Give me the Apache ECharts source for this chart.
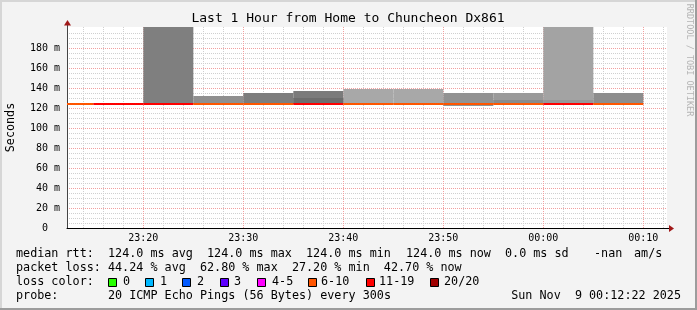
<!DOCTYPE html>
<html><head><meta charset="utf-8">
<script src="https://cdn.jsdelivr.net/npm/echarts@6/dist/echarts.min.js"></script>
<style>html,body{margin:0;padding:0;background:#f3f3f3}#c{width:697px;height:310px}</style>
</head><body><div id="c"></div>
<script>
// minutes after 23:00 (00:10 = 70)
const stepEnd    = [15, 20, 25, 30, 35, 40, 45, 50, 55, 60, 65, 70];
const medianRtt  = [124,124,124,124,124,124,124,124,124,124,124,124];
const lossPct    = [40, 58, 62.8, 35, 38, 60, 27.2, 33, 45, 40, 52, 42.7];
const smokeLow   = [null, null, 124, 124, 124, 124, 124, 124, 122, 124, 124, 124];
const smokeHigh  = [null, null, 240, 132, 135, 137, 139, 139, 135, 135, 240, 135];
const smokeInner = [null, null, null, null, null, 130, null, null, null, 128, 128, null];
const xLabelMinutes = [20, 30, 40, 50, 60, 70];
const yLabelValues  = [0, 20, 40, 60, 80, 100, 120, 140, 160, 180];
const lossBinMax    = [0, 1, 2, 3, 5, 10, 19, 20];
const lossBinLabels = ['0', '1', '2', '3', '4-5', '6-10', '11-19', '20/20'];

// styles (not data)
const lossBinColors = ['#26ff00', '#00b8ff', '#0059ff', '#5e00ff', '#ff00ff', '#ff5500', '#ff0000', '#a00000'];
const smokeShade = ['', '', '#7f7f7f', '#8f8f8f', '#7d7d7d', '#7b7b7b', '#a8a8a8', '#a8a8a8', '#929292', '#9a9a9a', '#a3a3a3', '#8d8d8d'];
const innerShade = ['', '', '', '', '', '#6d6d6d', '', '', '', '#8b8b8b', '#979797', ''];

const X_MIN = 12 + 22 / 60, X_MAX = 72 + 22 / 60, STEP = 5;
const xGrid = []; for (let m = 14; m <= 72; m += 2) xGrid.push(m);
const yGrid = []; for (let v = 0; v <= 195; v += 5) yGrid.push(v);
const FONT = 'DejaVu Sans Mono';

function lossColor(p) {
  const cnt = p * 20 / 100;
  for (let i = 0; i < lossBinMax.length; i++) if (cnt <= lossBinMax[i]) return lossBinColors[i];
  return lossBinColors[lossBinColors.length - 1];
}
function fmtTime(m) {
  const h = (23 + Math.floor(m / 60)) % 24, mm = m % 60;
  return String(h).padStart(2, '0') + ':' + String(mm).padStart(2, '0');
}
function clipRect(p0, p1, cs) {
  return echarts.graphic.clipRectByRect(
    { x: p0[0], y: p0[1], width: p1[0] - p0[0], height: p1[1] - p0[1] },
    { x: cs.x, y: cs.y, width: cs.width, height: cs.height });
}

const smokeData = [], innerData = [], medData = [];
stepEnd.forEach((e, i) => {
  if (smokeHigh[i] != null) smokeData.push([e - STEP, e, smokeLow[i], smokeHigh[i], i]);
  if (smokeInner[i] != null) innerData.push([e - STEP, e, medianRtt[i], smokeInner[i], i]);
  medData.push([e - STEP, e, medianRtt[i], lossPct[i]]);
});

function bandRender(shades) {
  return function (params, api) {
    const p0 = api.coord([api.value(0), api.value(3)]);
    const p1 = api.coord([api.value(1), api.value(2)]);
    const shape = clipRect(p0, p1, params.coordSys);
    return shape && { type: 'rect', shape, style: { fill: shades[api.value(4)] } };
  };
}

const chart = echarts.init(document.getElementById('c'), null, { renderer: 'canvas' });
const option = {
  backgroundColor: '#f3f3f3',
  animation: false,
  grid: { left: 67, top: 27, width: 600, height: 201, show: true, backgroundColor: '#ffffff', borderWidth: 0, containLabel: false, outerBoundsMode: 'none' },
  xAxis: {
    type: 'value', min: X_MIN, max: X_MAX,
    axisLine: { show: true, onZero: false, lineStyle: { color: '#000', width: 1 } },
    axisTick: { show: false, customValues: xGrid },
    axisLabel: { customValues: xLabelMinutes, formatter: v => fmtTime(v), fontFamily: FONT, fontSize: 10, color: '#000', margin: 5 },
    splitLine: { show: true, lineStyle: { color: ['#d0d0d0', '#d0d0d0', '#d0d0d0', '#f2a0a0', '#d0d0d0'], type: [1, 1], width: 1 } }
  },
  yAxis: {
    type: 'value', min: 0, max: 201,
    name: 'Seconds', nameLocation: 'middle', nameGap: 50, nameRotate: 90,
    nameTextStyle: { fontFamily: FONT, fontSize: 11.75, color: '#000' },
    axisLine: { show: true, lineStyle: { color: '#444', width: 1 } },
    axisTick: { show: false, customValues: yGrid },
    axisLabel: { customValues: yLabelValues, formatter: v => v === 0 ? '0  ' : v + ' m', fontFamily: FONT, fontSize: 10, color: '#000', margin: 7 },
    splitLine: { show: true, lineStyle: { color: ['#f2a0a0', '#d0d0d0', '#d0d0d0', '#d0d0d0'], type: [1, 1], width: 1 } }
  },
  series: [
    { type: 'custom', data: smokeData, renderItem: bandRender(smokeShade), silent: true, z: 2 },
    { type: 'custom', data: innerData, renderItem: bandRender(innerShade), silent: true, z: 3 },
    { type: 'custom', data: medData, silent: true, z: 4,
      renderItem: function (params, api) {
        const a = api.coord([api.value(0), api.value(2)]);
        const b = api.coord([api.value(1), api.value(2)]);
        const shape = clipRect([a[0], a[1] - 1], [b[0], b[1] + 1], params.coordSys);
        return shape && { type: 'rect', shape, style: { fill: lossColor(api.value(3)) } };
      } }
  ]
};
chart.setOption(option);

// decorations
const origin = chart.convertToPixel({ gridIndex: 0 }, [X_MIN, 0]);
const corner = chart.convertToPixel({ gridIndex: 0 }, [X_MAX, 201]);
const xr = corner[0], yb = origin[1], xl = origin[0], yt = corner[1];
const LF = '11.75px "' + FONT + '"';
const T = (x, y, s, opt) => Object.assign({ type: 'text', x, y, style: Object.assign({ text: s, font: LF, fill: '#000', verticalAlign: 'middle', align: 'left' }, opt || {}) });

const rows = [
  [[16, 'median rtt:'], [108, '124.0 ms avg'], [207, '124.0 ms max'], [306, '124.0 ms min'], [406, '124.0 ms now'], [505, '0.0 ms sd'], [594, '-nan'], [634, 'am/s']],
  [[16, 'packet loss: 44.24 % avg  62.80 % max  27.20 % min  42.70 % now']],
  [[16, 'loss color:']],
  [[16, 'probe:'], [108, '20 ICMP Echo Pings (56 Bytes) every 300s']]
];
const rowY = [254, 268, 282, 296];
const g = [];
rows.forEach((r, i) => r.forEach(([x, s]) => g.push(T(x, rowY[i], s))));
g.push(T(681, 296, 'Sun Nov  9 00:12:22 2025', { align: 'right' }));
const boxX = [108, 145, 182, 220, 257, 308, 366, 430];
const labX = [123, 160, 197, 234, 272, 321, 379, 444];
lossBinLabels.forEach((l, i) => {
  g.push({ type: 'rect', shape: { x: boxX[i] + 0.5, y: 278.5, width: 8, height: 8 }, style: { fill: lossBinColors[i], stroke: '#000', lineWidth: 1 } });
  g.push(T(labX[i], 282, l));
});
g.push(T(348, 19, 'Last 1 Hour from Home to Chuncheon Dx861', { align: 'center', font: '13px "' + FONT + '"' }));
g.push({ type: 'text', x: 689, y: 60, rotation: -Math.PI / 2,
  style: { text: 'RRDTOOL / TOBI OETIKER', font: '8.5px "' + FONT + '"', fill: '#b4b4b4', align: 'center', verticalAlign: 'middle' } });
// axis arrows
g.push({ type: 'line', shape: { x1: xr, y1: yb + 0.5, x2: xr + 3, y2: yb + 0.5 }, style: { stroke: '#000', lineWidth: 1 } });
g.push({ type: 'polygon', shape: { points: [[xr + 2, yb - 3], [xr + 7, yb + 0.5], [xr + 2, yb + 4]] }, style: { fill: '#a01818' } });
g.push({ type: 'line', shape: { x1: xl + 0.5, y1: yt, x2: xl + 0.5, y2: yt - 3 }, style: { stroke: '#444', lineWidth: 1 } });
g.push({ type: 'polygon', shape: { points: [[xl - 3, yt - 1.5], [xl + 0.5, yt - 7], [xl + 4, yt - 1.5]] }, style: { fill: '#a01818' } });
// frame
g.push({ type: 'rect', shape: { x: 0, y: 0, width: 697, height: 2 }, style: { fill: '#d6d6d6' } });
g.push({ type: 'rect', shape: { x: 0, y: 0, width: 2, height: 310 }, style: { fill: '#d6d6d6' } });
g.push({ type: 'rect', shape: { x: 0, y: 308, width: 697, height: 2 }, style: { fill: '#9c9c9c' } });
g.push({ type: 'rect', shape: { x: 695, y: 0, width: 2, height: 310 }, style: { fill: '#9c9c9c' } });
chart.setOption({ graphic: { elements: g } });
</script></body></html>
